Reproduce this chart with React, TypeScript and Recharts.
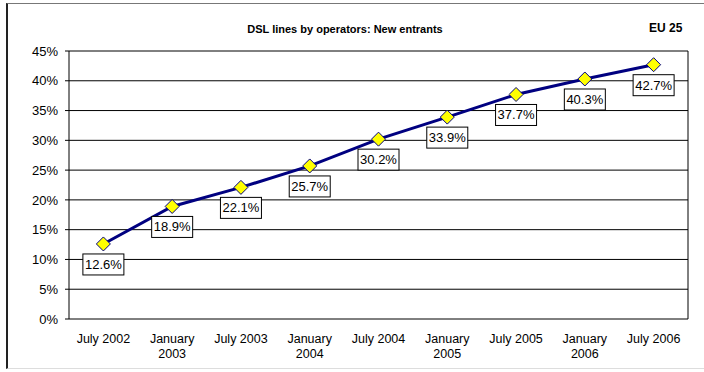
import React from 'react';
import { LineChart, Line, XAxis, YAxis, CartesianGrid, LabelList, ReferenceLine } from 'recharts';

const categories = [
  'July 2002',
  'January 2003',
  'July 2003',
  'January 2004',
  'July 2004',
  'January 2005',
  'July 2005',
  'January 2006',
  'July 2006',
];
const shares = [12.6, 18.9, 22.1, 25.7, 30.2, 33.9, 37.7, 40.3, 42.7];
const yTicks = [0, 5, 10, 15, 20, 25, 30, 35, 40, 45];
const boundaryTicks = [0, 1, 2, 3, 4, 5, 6, 7, 8, 9];
const labelTicks = [0.5, 1.5, 2.5, 3.5, 4.5, 5.5, 6.5, 7.5, 8.5];

const chartTitle = 'DSL lines by operators: New entrants';
const regionLabel = 'EU 25';

const data = categories.map((c, i) => ({ pos: labelTicks[i], cat: c, share: shares[i] }));

const FONT = '"Liberation Sans", Arial, sans-serif';

const CategoryTick = (props: any) => {
  const { x, y, payload } = props;
  const idx = labelTicks.indexOf(payload.value);
  const label = categories[idx] ?? '';
  const lines = label.startsWith('January') ? label.split(' ') : [label];
  return (
    <text x={x} y={y} textAnchor="middle" fontFamily={FONT} fontSize={12.5} fill="#000">
      {lines.map((l, i) => (
        <tspan key={i} x={x} dy={i === 0 ? 24 : 15}>
          {l}
        </tspan>
      ))}
    </text>
  );
};

const Diamond = (props: any) => {
  const { cx, cy } = props;
  if (cx == null || cy == null) return null;
  const r = 7;
  return (
    <polygon
      points={`${cx},${cy - r} ${cx + r},${cy} ${cx},${cy + r} ${cx - r},${cy}`}
      fill="#FFFF00"
      stroke="#000080"
      strokeWidth={1}
    />
  );
};

const BoxLabel = (props: any) => {
  const { x, y, value } = props;
  if (x == null || y == null) return null;
  const w = 41;
  const h = 21;
  const top = y + 10;
  return (
    <g>
      <rect x={x - w / 2} y={top} width={w} height={h} fill="#fff" stroke="#000" strokeWidth={1} />
      <text x={x} y={top + 15} textAnchor="middle" fontFamily={FONT} fontSize={13} fill="#000">
        {`${Number(value).toFixed(1)}%`}
      </text>
    </g>
  );
};

export default function App() {
  return (
    <div style={{ position: 'absolute', left: 0, top: 0, width: 704, height: 372, background: '#fff', fontFamily: FONT }}>
      <div
        style={{
          position: 'absolute',
          left: 6,
          top: 3,
          width: 700,
          height: 366,
          borderLeft: '2px solid #222',
          borderTop: '1px solid #777',
          borderBottom: '1px solid #ddd',
          boxSizing: 'border-box',
        }}
      />
      <div
        style={{
          position: 'absolute',
          left: 0,
          width: 690,
          top: 21,
          textAlign: 'center',
          fontSize: 11,
          fontWeight: 'bold',
          lineHeight: '16px',
          color: '#000',
        }}
      >
        {chartTitle}
      </div>
      <div
        style={{
          position: 'absolute',
          left: 649,
          top: 20,
          fontSize: 12,
          fontWeight: 'bold',
          lineHeight: '16px',
          color: '#000',
        }}
      >
        {regionLabel}
      </div>
      <div style={{ position: 'absolute', left: 0, top: 0 }}>
        <LineChart width={704} height={372} data={data} margin={{ top: 51, right: 16, bottom: 13, left: 9 }}>
          <CartesianGrid xAxisId="labels" vertical={false} stroke="#000" strokeOpacity={1} />
          <XAxis
            xAxisId="ticks"
            type="number"
            dataKey="pos"
            domain={[0, 9]}
            ticks={boundaryTicks}
            interval={0}
            height={0}
            tickSize={4}
            tick={false}
            stroke="#000"
            axisLine={{ stroke: '#000' }}
            tickLine={{ stroke: '#000' }}
          />
          <XAxis
            xAxisId="labels"
            type="number"
            dataKey="pos"
            domain={[0, 9]}
            ticks={labelTicks}
            interval={0}
            height={40}
            tickSize={0}
            tickMargin={0}
            axisLine={false}
            tickLine={false}
            tick={<CategoryTick />}
          />
          <YAxis
            type="number"
            domain={[0, 45]}
            ticks={yTicks}
            interval={0}
            width={60}
            tickSize={4}
            tickMargin={7}
            tickFormatter={(v: number) => `${v}%`}
            tick={{ fontFamily: FONT, fontSize: 13, fill: '#000' }}
            axisLine={{ stroke: '#000' }}
            tickLine={{ stroke: '#000' }}
          />
          <ReferenceLine xAxisId="ticks" x={9} stroke="#000" strokeWidth={1} />
          <Line
            xAxisId="labels"
            dataKey="share"
            stroke="#000080"
            strokeWidth={3}
            dot={<Diamond />}
            activeDot={false}
            isAnimationActive={false}
          >
            <LabelList dataKey="share" content={<BoxLabel />} />
          </Line>
        </LineChart>
      </div>
    </div>
  );
}
